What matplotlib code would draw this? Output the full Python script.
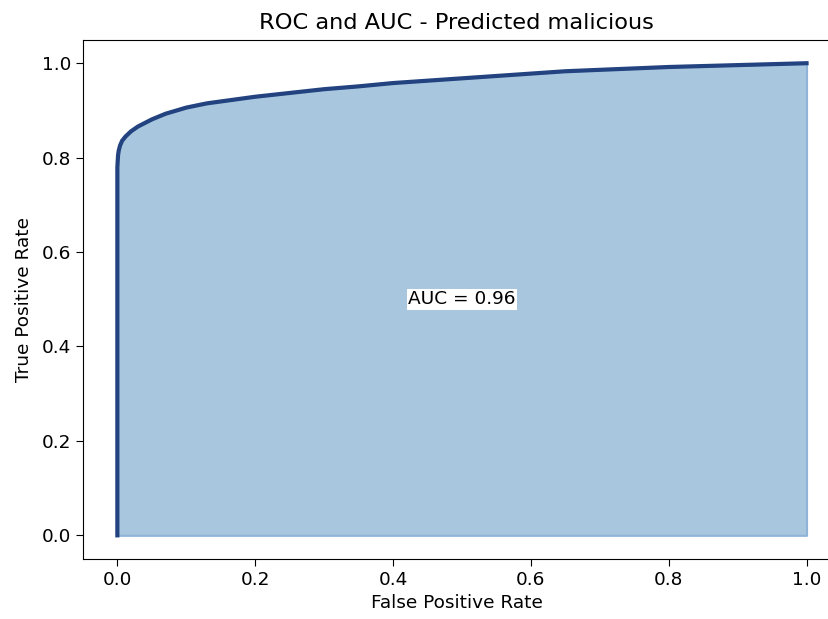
import matplotlib
matplotlib.use("Agg")
import matplotlib.pyplot as plt
import numpy as np

fpr = [0.0, 0.0, 0.001, 0.002, 0.004, 0.007, 0.012, 0.02, 0.03, 0.05, 0.07, 0.1, 0.13, 0.17, 0.2, 0.25,
       0.3, 0.35, 0.4, 0.45, 0.5, 0.55, 0.6, 0.65, 0.7, 0.75, 0.8, 0.85, 0.9, 0.95, 1.0]
tpr = [0.0, 0.78, 0.805, 0.815, 0.826, 0.836, 0.845, 0.856, 0.866, 0.881, 0.893, 0.906, 0.915, 0.923, 0.929, 0.937,
       0.945, 0.951, 0.958, 0.963, 0.968, 0.973, 0.978, 0.983, 0.986, 0.989, 0.992, 0.994, 0.996, 0.998, 1.0]
auc = 0.96

fig = plt.figure(figsize=(8.29, 6.19), dpi=100)
ax = fig.add_axes([0.100, 0.097, 0.902, 0.839])
ax.fill_between(fpr, tpr, 0, facecolor="#a8c7df", edgecolor="#8fb4d8", linewidth=1.5)
ax.plot(fpr, tpr, color="#22437f", linewidth=3)
ax.text(0.5, 0.5, f"AUC = {auc:.2f}", ha="center", va="center", fontsize=13.3,
        bbox=dict(facecolor="white", edgecolor="none", pad=1))
ax.set_title("ROC and AUC - Predicted malicious", fontsize=16.2, pad=8)
ax.set_xlabel("False Positive Rate", fontsize=13.3)
ax.set_ylabel("True Positive Rate", fontsize=13.3, labelpad=6)
ax.set_xticks(np.arange(0, 1.01, 0.2))
ax.set_yticks(np.arange(0, 1.01, 0.2))
ax.tick_params(labelsize=13.3, length=5)
ax.set_xlim(-0.05, 1.035)
ax.set_ylim(-0.05, 1.05)
fig.savefig("out.png", dpi=100)
